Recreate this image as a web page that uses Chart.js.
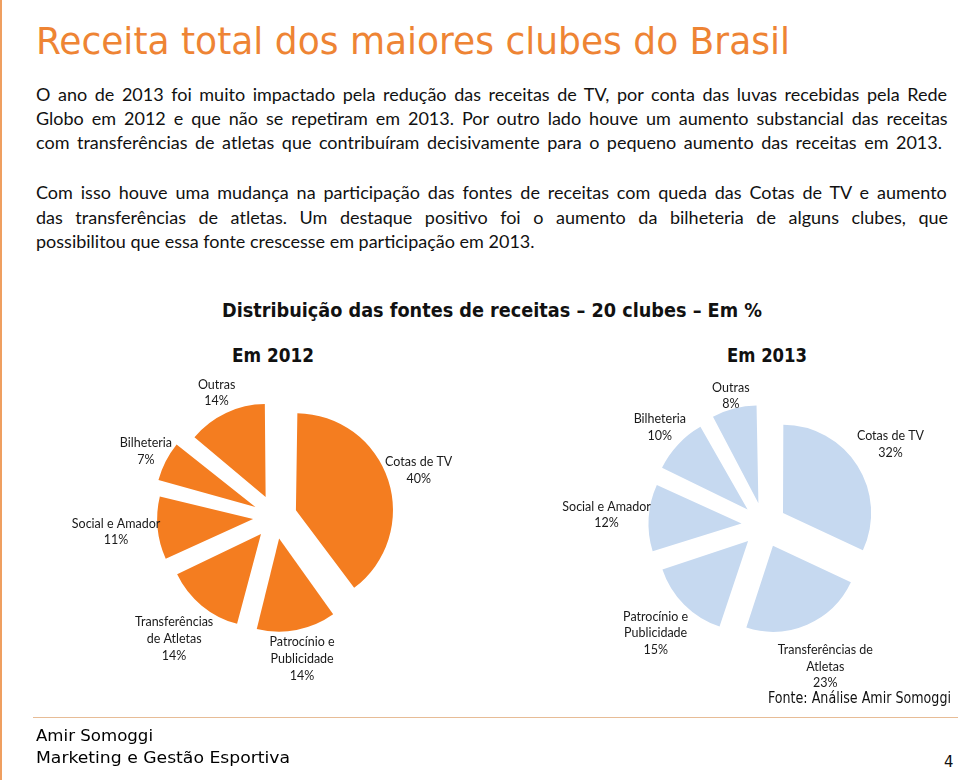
<!DOCTYPE html>
<html><head><meta charset="utf-8">
<script src="https://cdn.jsdelivr.net/npm/chart.js@4.4.1/dist/chart.umd.min.js"></script>
<style>
html,body{margin:0;padding:0;background:#fff;width:960px;height:780px;overflow:hidden;}
body{position:relative;font-family:Lato,"Open Sans",sans-serif;color:#111;}
.abs{position:absolute;white-space:nowrap;}
.tah{font-family:"DejaVu Sans Condensed","DejaVu Sans",sans-serif;font-stretch:condensed;}
#vbar{left:0;top:0;width:2px;height:780px;background:#EF9F60;}
#hline{left:33px;top:717px;width:925px;height:1px;background:#E7BC96;}
#title{left:36px;top:22px;font-size:38px;line-height:38px;color:#EE8434;}
.para{left:36px;width:912px;font-size:18px;line-height:24.4px;}
.para div{white-space:nowrap;}
#ctitle{left:222px;top:301px;font-size:19px;line-height:19px;font-weight:bold;color:#111;}
.year{top:346px;font-size:19.5px;line-height:19.5px;font-weight:bold;color:#111;}
#fonte{left:768px;top:690.5px;font-size:15px;line-height:15px;color:#111;}
.foot{left:36px;font-size:16px;line-height:16px;color:#000;}
#page{left:944px;top:754px;font-size:16.5px;line-height:16.5px;color:#111;}
canvas{position:absolute;}
</style>
</head><body>
<div id="vbar" class="abs"></div>
<div id="title" class="abs tah">Receita total dos maiores clubes do Brasil</div>
<div id="p1" class="abs para" style="top:81.5px"></div>
<div id="p2" class="abs para" style="top:180.1px"></div>
<div id="ctitle" class="abs tah">Distribuição das fontes de receitas – 20 clubes – Em %</div>
<div id="y1" class="abs tah year" style="left:232px">Em 2012</div>
<div id="y2" class="abs tah year" style="left:727px">Em 2013</div>
<canvas id="c1" width="480" height="400" style="left:0;top:330px"></canvas>
<canvas id="c2" width="480" height="400" style="left:480px;top:330px"></canvas>
<div id="fonte" class="abs tah">Fonte: Análise Amir Somoggi</div>
<div id="hline" class="abs"></div>
<div id="f1" class="abs tah foot" style="top:728px">Amir Somoggi</div>
<div id="f2" class="abs tah foot" style="top:749.5px">Marketing e Gestão Esportiva</div>
<div id="page" class="abs tah">4</div>
<script>
// ---- Data ----
const categories2012 = ['Cotas de TV','Patrocínio e Publicidade','Transferências de Atletas','Social e Amador','Bilheteria','Outras'];
const values2012 = [40, 14, 14, 11, 7, 14];
const labelLines2012 = [['Cotas de TV'],['Patrocínio e','Publicidade'],['Transferências','de Atletas'],['Social e Amador'],['Bilheteria'],['Outras']];

const categories2013 = ['Cotas de TV','Transferências de Atletas','Patrocínio e Publicidade','Social e Amador','Bilheteria','Outras'];
const values2013 = [32, 23, 15, 12, 10, 8];
const labelLines2013 = [['Cotas de TV'],['Transferências de','Atletas'],['Patrocínio e','Publicidade'],['Social e Amador'],['Bilheteria'],['Outras']];

const para1Lines = [
  'O ano de 2013 foi muito impactado pela redução das receitas de TV, por conta das luvas recebidas pela Rede',
  'Globo em 2012 e que não se repetiram em 2013. Por outro lado houve um aumento substancial das receitas',
  'com transferências de atletas que contribuíram decisivamente para o pequeno aumento das receitas em 2013.'
];
const para2Lines = [
  'Com isso houve uma mudança na participação das fontes de receitas com queda das Cotas de TV e aumento',
  'das transferências de atletas. Um destaque positivo foi o aumento da bilheteria de alguns clubes, que',
  'possibilitou que essa fonte crescesse em participação em 2013.'
];

// ---- Paragraphs (manual justification) ----
const mctx = document.createElement('canvas').getContext('2d');
function buildPara(id, lines, lastWidth){
  const box = document.getElementById(id);
  mctx.font = '18px Lato';
  lines.forEach((t, i) => {
    const d = document.createElement('div');
    d.textContent = t;
    const w = mctx.measureText(t).width;
    const spaces = (t.match(/ /g) || []).length;
    const last = i === lines.length - 1;
    let W = null;
    if (!last) W = 912;
    else if (lastWidth) W = lastWidth;
    else if (w > 912) W = 912;
    if (W !== null && spaces > 0) d.style.wordSpacing = ((W - w) / spaces) + 'px';
    box.appendChild(d);
  });
}
buildPara('p1', para1Lines, 906);
buildPara('p2', para2Lines, 0);

// ---- width fitting for the display-font texts ----
function fit(id, target){
  const el = document.getElementById(id);
  const w = el.getBoundingClientRect().width;
  el.style.transformOrigin = 'left center';
  el.style.transform = 'scaleX(' + (target / w) + ')';
}
fit('title', 754); fit('ctitle', 540); fit('y1', 82); fit('y2', 80);
fit('fonte', 183); fit('f1', 117); fit('f2', 254);

// ---- Slice labels plugin ----
const sliceLabels = {
  id: 'sliceLabels',
  afterDatasetsDraw(chart, args, opts){
    const ctx = chart.ctx;
    const meta = chart.getDatasetMeta(0);
    const ds = chart.data.datasets[0];
    ctx.save();
    ctx.font = opts.font;
    ctx.fillStyle = opts.color;
    ctx.textAlign = 'center';
    ctx.textBaseline = 'middle';
    meta.data.forEach((arc, i) => {
      const p = arc.getProps(['x','y','startAngle','endAngle','outerRadius'], true);
      const mid = (p.startAngle + p.endAngle) / 2;
      const shift = (arc.options.offset || 0) / 4;
      const lines = opts.lines[i].concat([ds.data[i] + '%']);
      const w = Math.max(...lines.map(l => ctx.measureText(l).width));
      const h = lines.length * opts.lineHeight;
      const cx = Math.cos(mid), sy = Math.sin(mid);
      const d = p.outerRadius + shift + opts.pad + Math.abs(cx) * w / 2 + Math.abs(sy) * h / 2;
      const bx = p.x + cx * d, by = p.y + sy * d;
      lines.forEach((l, k) => ctx.fillText(l, bx, by - h / 2 + opts.lineHeight * (k + 0.5)));
    });
    ctx.restore();
  }
};

function makePie(id, cats, vals, lines, color, radius, offset, padding){
  new Chart(document.getElementById(id), {
    type: 'pie',
    data: { labels: cats, datasets: [{ data: vals, backgroundColor: color, borderWidth: 0, offset: offset, hoverOffset: offset, clip: false }] },
    options: {
      responsive: false, animation: false, radius: radius,
      layout: { padding: padding },
      events: [],
      plugins: {
        legend: { display: false }, tooltip: { enabled: false },
        sliceLabels: { lines: lines, font: '12.5px Lato', color: '#1a1a1a', lineHeight: 16.7, pad: 4 }
      }
    },
    plugins: [sliceLabels]
  });
}
makePie('c1', categories2012, values2012, labelLines2012, '#F47D20', 88, 88, {left:70, right:0, top:0, bottom:26});
makePie('c2', categories2013, values2013, labelLines2013, '#C6D9F0', 86, 90, {left:88, right:0, top:0, bottom:10});
</script>
</body></html>
